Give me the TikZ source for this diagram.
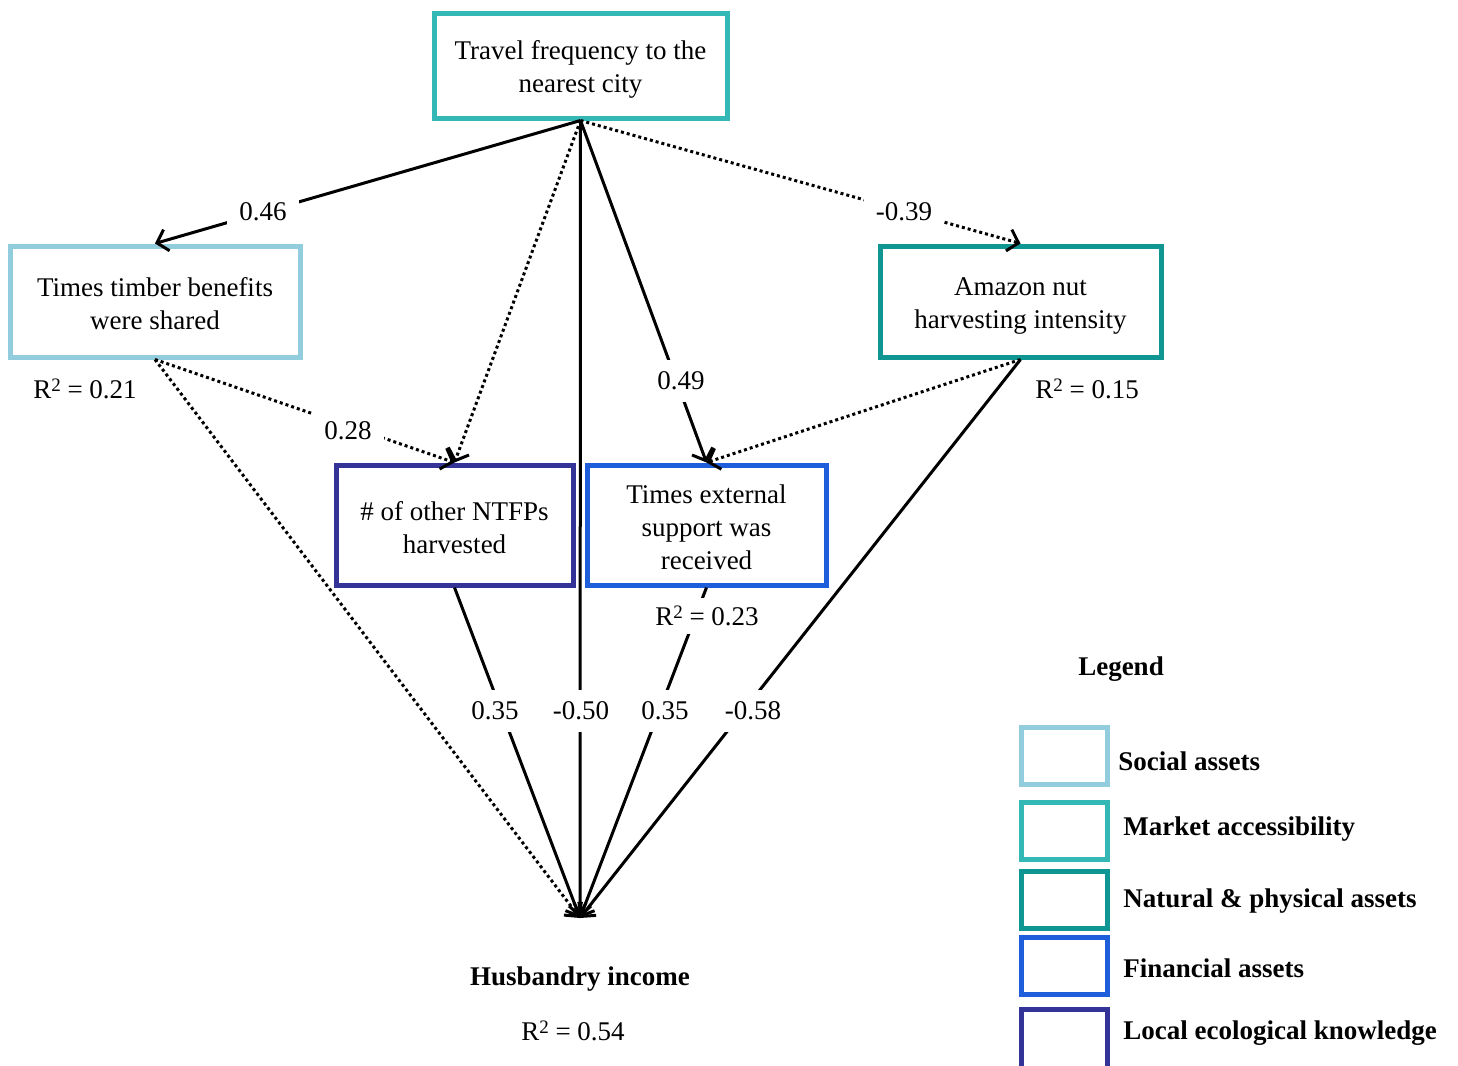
\documentclass[tikz,border=0pt]{standalone}
\usepackage{fontspec}
\setmainfont{Liberation Serif}
\usetikzlibrary{arrows.meta}
\definecolor{csocial}{RGB}{146,205,222}
\definecolor{cmarket}{RGB}{52,184,182}
\definecolor{cnatural}{RGB}{16,150,146}
\definecolor{cfin}{RGB}{30,94,218}
\definecolor{clocal}{RGB}{52,52,152}
\newcommand{\rsqsym}{R\raisebox{0.55ex}{\fontsize{9.5}{9.5}\selectfont 2}}
\begin{document}
\begin{tikzpicture}[x=0.5pt,y=-0.5pt,
  font=\fontsize{13.5}{16.5}\selectfont,
  varbox/.style={draw,line width=2.5pt,rectangle,inner sep=0pt},
  boxtext/.style={align=center,inner sep=0pt},
  legbox/.style={draw,line width=2.5pt,rectangle,minimum width=43pt,minimum height=28.5pt,inner sep=0pt},
  legtext/.style={anchor=west,font=\fontsize{13.5}{16.5}\selectfont\bfseries,inner sep=0pt},
  path/.style={line width=1.5pt,-{Straight Barb[length=5pt,width=11pt,line width=1.5pt]}},
  solidpath/.style={path},
  dotpath/.style={path,dash pattern=on 1.5pt off 1.5pt},
  coef/.style={fill=white,inner sep=6pt},
  rsq/.style={inner sep=1pt}
]
\useasboundingbox (0,0) rectangle (1458,1066);
\clip (0,0) rectangle (1458,1066);

% variable boxes
\node[varbox,draw=cmarket,minimum width=146.5pt,minimum height=52.5pt] (top) at (580.5,65.5) {};
\node[varbox,draw=csocial,minimum width=145pt,minimum height=55.5pt] (timber) at (155,301.5) {};
\node[varbox,draw=cnatural,minimum width=140.5pt,minimum height=55.5pt] (amazon) at (1020.5,301.5) {};
\node[varbox,draw=clocal,minimum width=118.5pt,minimum height=60pt] (ntfp) at (454.5,525) {};
\node[varbox,draw=cfin,minimum width=119.5pt,minimum height=60pt] (ext) at (706.5,525) {};

\node[boxtext] (toptext) at ([yshift=-2.2pt]top.center) {Travel frequency to the\\nearest city};
\node[boxtext] (timbertext) at ([yshift=-1pt]timber.center) {Times timber benefits\\were shared};
\node[boxtext] (amazontext) at ([yshift=-2pt]amazon.center) {Amazon nut\\harvesting intensity};
\node[boxtext] (ntfptext) at ([yshift=-1.5pt]ntfp.center) {\# of other NTFPs\\harvested};
\node[boxtext] (exttext) at ([yshift=-1pt]ext.center) {Times external\\support was\\received};

\coordinate (hb) at (580,918);
\node[font=\fontsize{13.5}{16.5}\selectfont\bfseries,inner sep=1pt] (hbtext) at (580,979) {Husbandry income};

% R squared labels
\node[rsq] (r1) at (85,389) {\rsqsym{} = 0.21};
\node[rsq] (r2) at (1087,389) {\rsqsym{} = 0.15};
\node[rsq] (r4) at (573,1031) {\rsqsym{} = 0.54};

% paths
\draw[solidpath] (top.south) -- (timber.north);
\draw[dotpath] (top.south) -- (ntfp.north);
\draw[solidpath] (top.south) -- (hb);
\draw[solidpath] (top.south) -- (ext.north);
\draw[dotpath] (top.south) -- (amazon.north);
\draw[dotpath] (timber.south) -- (ntfp.north);
\draw[dotpath] (timber.south) -- (hb);
\draw[dotpath] (amazon.south) -- (ext.north);
\draw[solidpath] (amazon.south) -- (hb);
\draw[solidpath] (ntfp.south) -- (hb);
\draw[solidpath] (ext.south) -- (hb);

% coefficient labels
\node[coef] (l1) at (263,212) {0.46};
\node[coef] (l4) at (904,212) {-0.39};
\node[coef] (l3) at (681,381) {0.49};
\node[coef] (l5) at (348,431) {0.28};
\node[coef] (l7) at (495,711) {0.35};
\node[coef] (l2) at (581,711) {-0.50};
\node[coef] (l8) at (665,711) {0.35};
\node[coef] (l6) at (753,711) {-0.58};

\node[fill=white,inner sep=4pt] (r3) at (707,616) {\rsqsym{} = 0.23};

% legend
\node[font=\fontsize{13.5}{16.5}\selectfont\bfseries,inner sep=1pt] (legtitle) at (1121,669) {Legend};
\node[legbox,draw=csocial] (lg1) at (1064,756) {};
\node[legbox,draw=cmarket] (lg2) at (1064,831) {};
\node[legbox,draw=cnatural] (lg3) at (1064,900) {};
\node[legbox,draw=cfin] (lg4) at (1064,966) {};
\node[legbox,draw=clocal,minimum height=36pt] (lg5) at (1064,1045) {};
\node[legtext] (lt1) at (1118,761) {Social assets};
\node[legtext] (lt2) at (1123,829) {Market accessibility};
\node[legtext] (lt3) at (1123,901) {Natural \& physical assets};
\node[legtext] (lt4) at (1123,968) {Financial assets};
\node[legtext] (lt5) at (1123,1033) {Local ecological knowledge};
\end{tikzpicture}
\end{document}
